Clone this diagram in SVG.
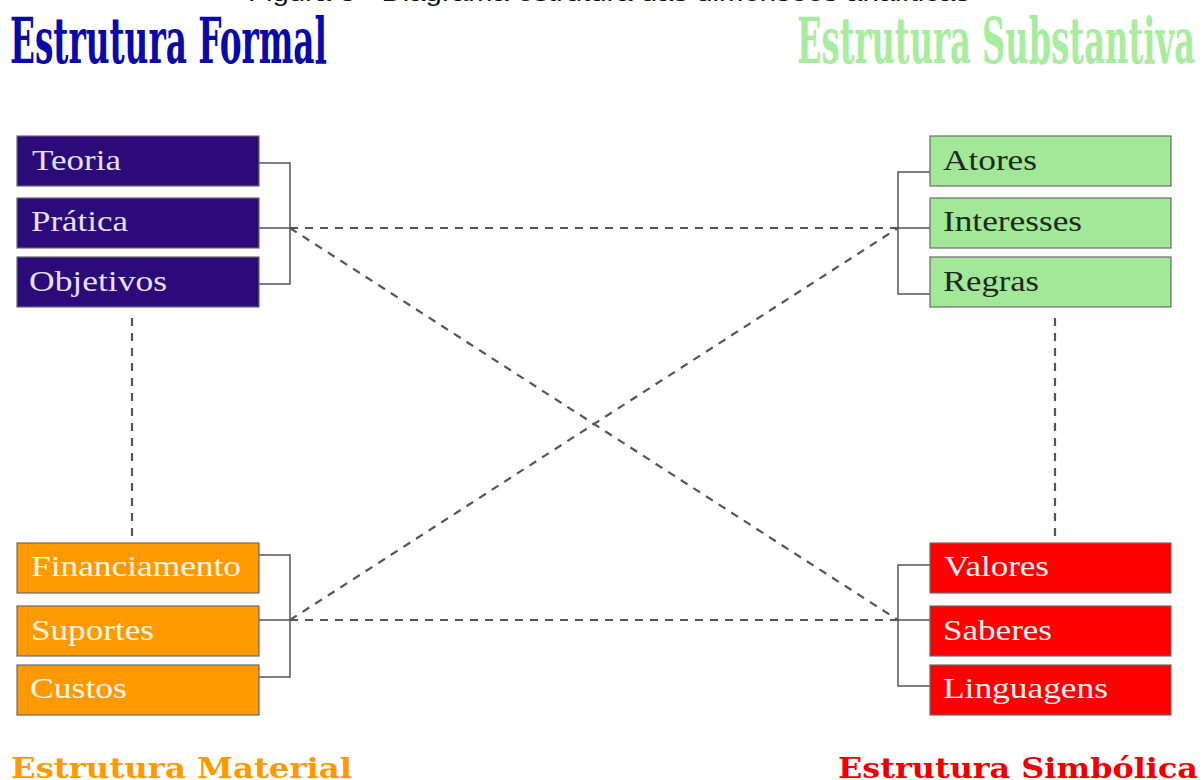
<svg xmlns="http://www.w3.org/2000/svg" width="1202" height="780" viewBox="0 0 1202 780">
<style>
.box{stroke:#6a6a6a;stroke-width:1.2}
.formal{fill:#2b0a7a}
.subst{fill:#a2e898}
.mat{fill:#ff9900}
.simb{fill:#ff0000}
.lbl{font-family:"Liberation Serif","Times New Roman",serif;font-size:29px}
.lf{fill:#e6e0f2}
.ls{fill:#1e2a1e}
.lm{fill:#fff6e6}
.lr{fill:#fff2f2}
.br{fill:none;stroke:#555;stroke-width:1.5}
.dash{fill:none;stroke:#555;stroke-width:2.2;stroke-dasharray:8 7}
.big{font-family:"DejaVu Serif","Liberation Serif",serif;font-weight:bold;font-size:64px}
.small{font-family:"DejaVu Serif","Liberation Serif",serif;font-weight:bold;font-size:28px}
</style>
<rect width="1202" height="780" fill="#ffffff"/>
<text x="248" y="1" font-family="Liberation Sans, Arial, sans-serif" font-size="24" fill="#111" textLength="722" lengthAdjust="spacingAndGlyphs">Figura 3 - Diagrama estrutura das dimensões analíticas</text>
<text class="big" x="10" y="63" fill="#0a0aa8" textLength="317" lengthAdjust="spacingAndGlyphs">Estrutura Formal</text>
<text class="big" x="797" y="63" fill="#a8eca0" textLength="398" lengthAdjust="spacingAndGlyphs">Estrutura Substantiva</text>
<text class="small" x="11" y="778" fill="#ff9900" textLength="341" lengthAdjust="spacingAndGlyphs">Estrutura Material</text>
<text class="small" x="838" y="778" fill="#ee0000" textLength="360" lengthAdjust="spacingAndGlyphs">Estrutura Simbólica</text>
<g id="connectors">
<path class="br" d="M259 163H290V284H259M259 228H290"/>
<path class="br" d="M930 172H898V294H930M930 228H898"/>
<path class="br" d="M259 555H290V677H259M259 620H290"/>
<path class="br" d="M930 565H898V686H930M930 620H898"/>
<line class="dash" x1="290" y1="228" x2="898" y2="228"/>
<line class="dash" x1="290" y1="228" x2="898" y2="620"/>
<line class="dash" x1="290" y1="620" x2="898" y2="228"/>
<line class="dash" x1="290" y1="620" x2="898" y2="620"/>
<line class="dash" x1="132" y1="318" x2="132" y2="536"/>
<line class="dash" x1="1055" y1="318" x2="1055" y2="536"/>
</g>
<g id="teoria"><rect class="box formal" x="17" y="136" width="242" height="50"/><text class="lbl lf" x="32" y="170" textLength="89" lengthAdjust="spacingAndGlyphs">Teoria</text></g>
<g id="pratica"><rect class="box formal" x="17" y="198" width="242" height="50"/><text class="lbl lf" x="31" y="231" textLength="97" lengthAdjust="spacingAndGlyphs">Prática</text></g>
<g id="objetivos"><rect class="box formal" x="17" y="257" width="242" height="50"/><text class="lbl lf" x="29" y="291" textLength="138" lengthAdjust="spacingAndGlyphs">Objetivos</text></g>
<g id="atores"><rect class="box subst" x="930" y="136" width="241" height="50"/><text class="lbl ls" x="943" y="170" textLength="94" lengthAdjust="spacingAndGlyphs">Atores</text></g>
<g id="interesses"><rect class="box subst" x="930" y="198" width="241" height="50"/><text class="lbl ls" x="943" y="231" textLength="139" lengthAdjust="spacingAndGlyphs">Interesses</text></g>
<g id="regras"><rect class="box subst" x="930" y="257" width="241" height="50"/><text class="lbl ls" x="943" y="291" textLength="96" lengthAdjust="spacingAndGlyphs">Regras</text></g>
<g id="financiamento"><rect class="box mat" x="17" y="543" width="242" height="50"/><text class="lbl lm" x="31" y="576" textLength="210" lengthAdjust="spacingAndGlyphs">Financiamento</text></g>
<g id="suportes"><rect class="box mat" x="17" y="606" width="242" height="50"/><text class="lbl lm" x="31" y="640" textLength="123" lengthAdjust="spacingAndGlyphs">Suportes</text></g>
<g id="custos"><rect class="box mat" x="17" y="665" width="242" height="50"/><text class="lbl lm" x="30" y="698" textLength="97" lengthAdjust="spacingAndGlyphs">Custos</text></g>
<g id="valores"><rect class="box simb" x="930" y="543" width="241" height="50"/><text class="lbl lr" x="944" y="576" textLength="105" lengthAdjust="spacingAndGlyphs">Valores</text></g>
<g id="saberes"><rect class="box simb" x="930" y="606" width="241" height="50"/><text class="lbl lr" x="943" y="640" textLength="109" lengthAdjust="spacingAndGlyphs">Saberes</text></g>
<g id="linguagens"><rect class="box simb" x="930" y="665" width="241" height="50"/><text class="lbl lr" x="943" y="698" textLength="165" lengthAdjust="spacingAndGlyphs">Linguagens</text></g>
</svg>
